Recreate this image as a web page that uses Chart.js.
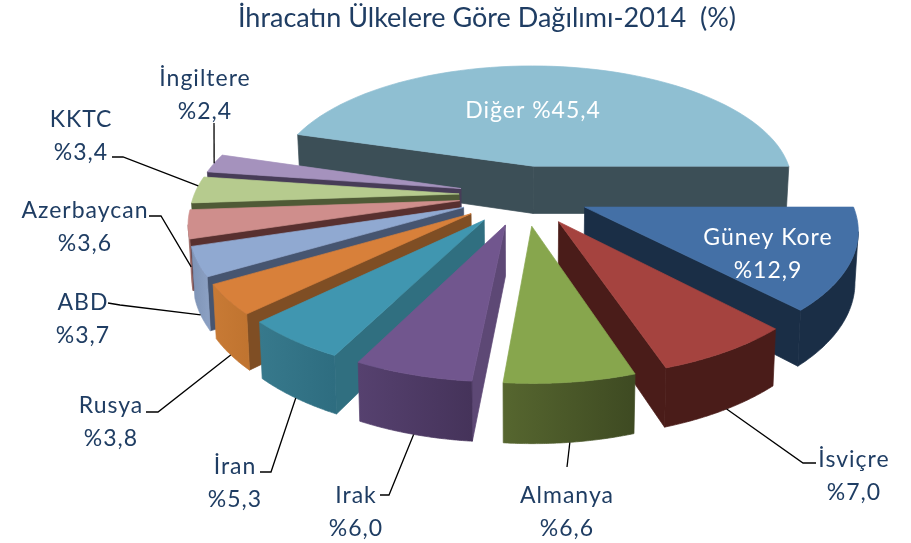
<!DOCTYPE html>
<html lang="tr">
<head>
<meta charset="utf-8">
<title>İhracatın Ülkelere Göre Dağılımı-2014</title>
<script src="https://cdn.jsdelivr.net/npm/chart.js@4"></script>
<style>
    html, body { margin: 0; padding: 0; background: #fff; }
    #chart { display: block; }
</style>
</head>
<body>
<canvas id="chart" width="911" height="543"></canvas>
<script>
const categories = ["Güney Kore", "İsviçre", "Almanya", "Irak", "İran", "Rusya", "ABD", "Azerbaycan", "KKTC", "İngiltere", "Diğer"];
const shares = [12.9, 7.0, 6.6, 6.0, 5.3, 3.8, 3.7, 3.6, 3.4, 2.4, 45.4];
const shareLabels = ["%12,9", "%7,0", "%6,6", "%6,0", "%5,3", "%3,8", "%3,7", "%3,6", "%3,4", "%2,4", "%45,4"];

const faceColors = ["#4470a6", "#a5433f", "#87a64d", "#71568e", "#4096b0", "#d8803a", "#90a9d1", "#cf8e8c", "#b6cb8e", "#a592bd", "#8fbfd2"];
const sideColors = ["#1a2e46", "#4a1c19", "#4a1c19", "#5d4875", "#306f80", "#7f4e24", "#465570", "#58302f", "#4f5a36", "#473c57", "#3c4f57"];
const rimLeft = ["#1a2e46", "#4a1c19", "#56662f", "#56416f", "#37798c", "#c87a35", "#7e93b5", "#9c6a68", "#8a9b6a", "#7a6c8e", "#3c4f57"];
const rimRight = ["#1a2e46", "#4a1c19", "#3e4a22", "#45335a", "#2e6d80", "#c07430", "#8a9fc2", "#9c6a68", "#8a9b6a", "#7a6c8e", "#3c4f57"];

// label text spots, [x, first line baseline]
const labelSpots = [[768, 245], [854, 467], [567, 503], [356, 503], [235, 474], [111, 413], [83, 310], [85, 218], [81, 127], [205, 86], [533, 118]];
// bend of the leader next to the label, then where it touches the slice (along rim, down the wall)
const leaders = [
    null,
    { from: [816, 463], bend: [803, 463], rim: 0.48, wall: 1 },
    { from: [567, 467], bend: [567, 467], rim: 0.5, wall: 1 },
    { from: [380, 495], bend: [389, 495], rim: 0.5, wall: 1 },
    { from: [260, 472], bend: [271, 472], rim: 0.5, wall: 1 },
    { from: [146, 412], bend: [158, 412], rim: 0.5, wall: 1 },
    { from: [108, 303], bend: [120, 305], rim: 0.5, wall: 1 },
    { from: [149, 216], bend: [161, 216], rim: 0.1, wall: 0.6 },
    { from: [112, 157], bend: [123, 157], rim: 0.65, wall: 0 },
    { from: [214, 123], bend: [214, 123], rim: 0.5, wall: 0 },
    null
];

const view = { cx: 524, cy: 195, radius: 265, tilt: 0.465, persp: 0.15, depth: 49, narrow: 0.01 };
const textBlue = "#1f3d63";

// where a spot of a slice lands on the tilted pie
function project(el, angle, r, z) {
    const mid = (el.startAngle + el.endAngle) / 2;
    const off = el.options.offset;
    const X = r * view.radius * Math.cos(angle) + off * Math.cos(mid);
    const Y = r * view.radius * Math.sin(angle) + off * Math.sin(mid);
    const s = 1 / (1 - Y / view.radius * view.persp);
    return {
        x: view.cx + X * s * (1 - z * view.narrow),
        y: view.cy + (Y * view.tilt + z * view.depth) * s
    };
}

function fillShape(ctx, points, fill) {
    ctx.fillStyle = fill;
    ctx.strokeStyle = fill;
    ctx.lineWidth = 0.7;
    ctx.beginPath();
    points.forEach((p, n) => n ? ctx.lineTo(p.x, p.y) : ctx.moveTo(p.x, p.y));
    ctx.closePath();
    ctx.fill();
    ctx.stroke();
}

function drawSlice(ctx, el, i) {
    const steps = 60;
    const rim = [];
    for (let n = 0; n <= steps; n++) {
        rim.push(el.startAngle + (el.endAngle - el.startAngle) * n / steps);
    }
    const topRim = rim.map(a => project(el, a, 1, 0));
    const lowRim = rim.map(a => project(el, a, 1, 1));
    const mid = (el.startAngle + el.endAngle) / 2;
    const tip = project(el, mid, 0, 0);
    const tipLow = project(el, mid, 0, 1);

    // only walls turned towards the viewer are drawn
    if (topRim[0].x < tip.x) fillShape(ctx, [tip, topRim[0], lowRim[0], tipLow], sideColors[i]);
    if (topRim[steps].x >= tip.x) fillShape(ctx, [topRim[steps], tip, tipLow, lowRim[steps]], sideColors[i]);

    const xs = topRim.map(p => p.x);
    const grad = ctx.createLinearGradient(Math.min(...xs), 0, Math.max(...xs), 0);
    grad.addColorStop(0, rimLeft[i]);
    grad.addColorStop(1, rimRight[i]);
    let first = -1;
    for (let n = 0; n <= steps; n++) {
        const facing = n < steps && topRim[n + 1].x < topRim[n].x;
        if (facing && first < 0) first = n;
        if (!facing && first >= 0) {
            fillShape(ctx, [...topRim.slice(first, n + 1), ...lowRim.slice(first, n + 1).reverse()], grad);
            first = -1;
        }
    }

    fillShape(ctx, [tip, ...topRim], faceColors[i]);
}

function drawLeader(ctx, el, leader) {
    const angle = el.startAngle + (el.endAngle - el.startAngle) * leader.rim;
    const end = project(el, angle, 1, leader.wall);
    ctx.strokeStyle = "#000";
    ctx.lineWidth = 1.3;
    ctx.beginPath();
    ctx.moveTo(leader.from[0], leader.from[1]);
    ctx.lineTo(leader.bend[0], leader.bend[1]);
    ctx.lineTo(end.x, end.y);
    ctx.stroke();
}

const tiltedPie = {
    id: "tiltedPie",
    beforeDatasetDraw(chart, args) {
        const ctx = chart.ctx;
        const arcs = chart.getDatasetMeta(args.index).data;
        const order = arcs.map((el, i) => i).sort((a, b) =>
            Math.sin((arcs[a].startAngle + arcs[a].endAngle) / 2) - Math.sin((arcs[b].startAngle + arcs[b].endAngle) / 2));
        ctx.save();
        order.forEach(i => drawSlice(ctx, arcs[i], i));
        arcs.forEach((el, i) => { if (leaders[i]) drawLeader(ctx, el, leaders[i]); });

        ctx.font = "23px Lato";
        ctx.letterSpacing = "1px";
        ctx.textAlign = "center";
        ctx.textBaseline = "alphabetic";
        categories.forEach((name, i) => {
            const spot = labelSpots[i];
            ctx.fillStyle = (name === "Diğer" || name === "Güney Kore") ? "#fff" : textBlue;
            if (name === "Diğer") {
                ctx.fillText(name + " " + shareLabels[i], spot[0], spot[1]);
            } else {
                ctx.fillText(name, spot[0], spot[1]);
                ctx.fillText(shareLabels[i], spot[0], spot[1] + 33);
            }
        });
        ctx.restore();
        return false;
    }
};

new Chart(document.getElementById("chart"), {
    type: "pie",
    data: {
        labels: categories,
        datasets: [{
            data: shares,
            backgroundColor: faceColors,
            borderWidth: 0,
            offset: 65
        }]
    },
    options: {
        responsive: false,
        animation: false,
        rotation: 90,
        layout: { padding: { left: 63 } },
        plugins: {
            legend: { display: false },
            tooltip: { enabled: false },
            title: {
                display: true,
                fullSize: false,
                text: "İhracatın Ülkelere Göre Dağılımı-2014  (%)",
                color: textBlue,
                font: { family: "Lato", size: 27, weight: "normal" },
                padding: { top: 2, bottom: 6 }
            }
        }
    },
    plugins: [tiltedPie]
});
</script>
</body>
</html>
